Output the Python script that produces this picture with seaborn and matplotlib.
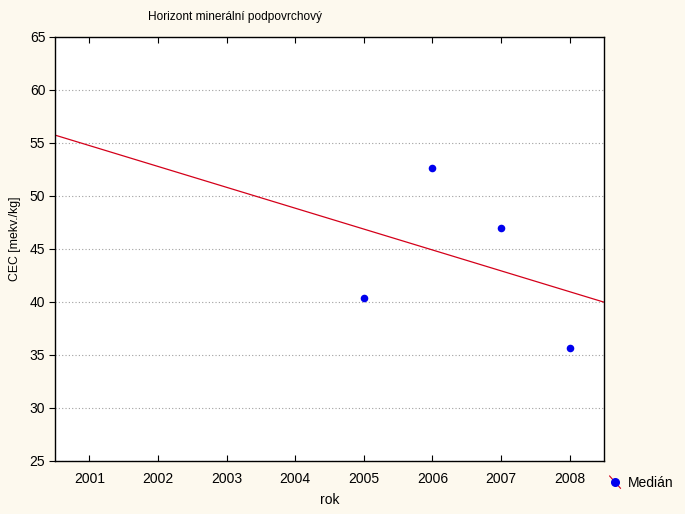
import matplotlib
matplotlib.use('Agg')
import pandas as pd
import seaborn as sns
import matplotlib.pyplot as plt
from matplotlib.lines import Line2D
from matplotlib.legend_handler import HandlerBase

# values
years = [2005, 2006, 2007, 2008]
cec_median = [40.4, 52.6, 47.0, 35.7]
x_ticks = [2001, 2002, 2003, 2004, 2005, 2006, 2007, 2008]
y_ticks = [25, 30, 35, 40, 45, 50, 55, 60, 65]

data = pd.DataFrame({'rok': years, 'CEC': cec_median})

sns.set_style('white')
plt.rcParams['font.family'] = ['Liberation Sans', 'DejaVu Sans']
plt.rcParams['font.size'] = 10
plt.rcParams['text.color'] = 'black'
plt.rcParams['xtick.color'] = 'black'
plt.rcParams['ytick.color'] = 'black'

red = '#d4001a'
blue = '#0000ee'
bg = '#fdf9ee'

fig = plt.figure(figsize=(6.85, 5.14), dpi=100, facecolor=bg)
ax = fig.add_axes([55 / 685, 1 - 461 / 514, 549 / 685, 424 / 514])
ax.set_facecolor('white')

ax.set_xlim(2000.5, 2008.5)
ax.set_ylim(25, 65)

# regression line over the whole x range, median points on top
sns.regplot(x='rok', y='CEC', data=data, ax=ax, ci=None, truncate=False,
            scatter=False, line_kws={'color': red, 'linewidth': 0.9})
sns.scatterplot(x='rok', y='CEC', data=data, ax=ax, color=blue,
                s=30, edgecolor=blue, linewidth=0, zorder=5)

ax.set_xticks(x_ticks)
ax.set_yticks(y_ticks)
ax.set_xticklabels([str(t) for t in x_ticks])
ax.set_yticklabels([str(t) for t in y_ticks])
ax.tick_params(axis='x', direction='in', length=4, top=True, bottom=True,
               color='black', width=0.8, pad=8, labelsize=10)
ax.tick_params(axis='y', direction='out', length=4, left=True,
               color='black', width=0.8, pad=3, labelsize=10)
ax.grid(axis='y', color='#a0a0a0', linestyle=(0, (1, 2)), linewidth=0.8)
ax.set_axisbelow(True)
for s in ax.spines.values():
    s.set_color('black')
    s.set_linewidth(1.0)

ax.set_xlabel('')
ax.set_ylabel('')
fig.text(235 / 685, 1 - 17 / 514, 'Horizont minerální podpovrchový',
         ha='center', va='center', fontsize=8.6)
fig.text(15 / 685, 1 - 239 / 514, 'CEC [mekv./kg]', rotation=90,
         ha='center', va='center', fontsize=8.8)
fig.text(330 / 685, 1 - 500 / 514, 'rok', ha='center', va='center', fontsize=10)


class DotWithLine(HandlerBase):
    # blue dot crossed by a short diagonal red line, as in the reference
    def create_artists(self, legend, orig_handle, xdescent, ydescent,
                       width, height, fontsize, trans):
        x0, x1 = -xdescent, -xdescent + width
        y0, y1 = -ydescent - 1, -ydescent + height + 1
        seg = Line2D([x0, x1], [y1, y0], color=red, linewidth=0.8,
                     transform=trans)
        dot = Line2D([(x0 + x1) / 2], [(y0 + y1) / 2], marker='o',
                     color='none', markerfacecolor=blue, markeredgecolor=blue,
                     markersize=5.5, transform=trans)
        return [seg, dot]


handle = Line2D([], [], marker='o', color='none')
fig.legend([handle], ['Medián'], loc='center left',
           bbox_to_anchor=(597 / 685, 1 - 483 / 514), frameon=False,
           handlelength=0.8, handletextpad=0.5, fontsize=10,
           handler_map={Line2D: DotWithLine()})

fig.savefig('out.png', dpi=100, facecolor=bg)
